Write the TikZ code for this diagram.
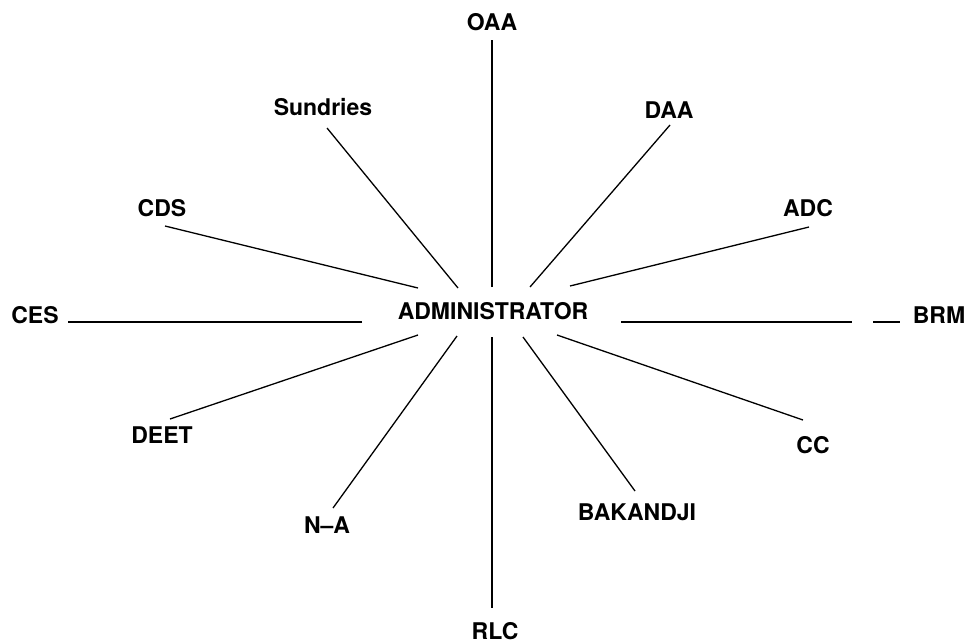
\documentclass[tikz,border=0pt]{standalone}
\usepackage{fontspec}
\setmainfont{TeX Gyre Heros}

\begin{document}
\begin{tikzpicture}[x=1pt,y=-1pt,
    unit/.style={font=\fontsize{23}{27}\selectfont\bfseries,inner sep=0pt},
    spoke/.style={line width=1.3pt}]
  \useasboundingbox (0,0) rectangle (976,643);
  % hub
  \node[unit] (admin) at (493,311) {ADMINISTRATOR};
  % units
  \node[unit] (oaa) at (492,22) {OAA};
  \node[unit] (daa) at (669,110) {DAA};
  \node[unit] (adc) at (808,208) {ADC};
  \node[unit] (brm) at (939,315) {BRM};
  \node[unit] (cc) at (813,445) {CC};
  \node[unit] (bak) at (637,512) {BAKANDJI};
  \node[unit] (rlc) at (495,631) {RLC};
  \node[unit] (na) at (327,525) {N--A};
  \node[unit] (deet) at (162,435) {DEET};
  \node[unit] (ces) at (35,315) {CES};
  \node[unit] (cds) at (162,208) {CDS};
  \node[unit] (sund) at (323,107) {Sundries};
  % spoke ends
  \coordinate (oaa-o) at (492,40);   \coordinate (oaa-i) at (492,287);
  \coordinate (daa-o) at (670,125);  \coordinate (daa-i) at (530,287);
  \coordinate (adc-o) at (809,227);  \coordinate (adc-i) at (570,286);
  \coordinate (brm-o) at (900,322);  \coordinate (brm-i) at (621,322);
  \coordinate (cc-o) at (803,420);   \coordinate (cc-i) at (557,335);
  \coordinate (bak-o) at (635,491);  \coordinate (bak-i) at (523,337);
  \coordinate (rlc-o) at (492,608);  \coordinate (rlc-i) at (492,337);
  \coordinate (na-o) at (333,508);   \coordinate (na-i) at (457,336);
  \coordinate (deet-o) at (170,419); \coordinate (deet-i) at (418,335);
  \coordinate (ces-o) at (68,322);   \coordinate (ces-i) at (362,322);
  \coordinate (cds-o) at (165,226);  \coordinate (cds-i) at (418,288);
  \coordinate (sund-o) at (327,128); \coordinate (sund-i) at (458,288);
  % spokes
  \path[spoke]
  (oaa-i) edge (oaa-o)
  (daa-i) edge (daa-o)
  (adc-i) edge (adc-o)
  (brm-i) edge[dash pattern=on 231pt off 21pt on 40pt] (brm-o)
  (cc-i) edge (cc-o)
  (bak-i) edge (bak-o)
  (rlc-i) edge (rlc-o)
  (na-i) edge (na-o)
  (deet-i) edge (deet-o)
  (ces-i) edge (ces-o)
  (cds-i) edge (cds-o)
  (sund-i) edge (sund-o);
\end{tikzpicture}
\end{document}
